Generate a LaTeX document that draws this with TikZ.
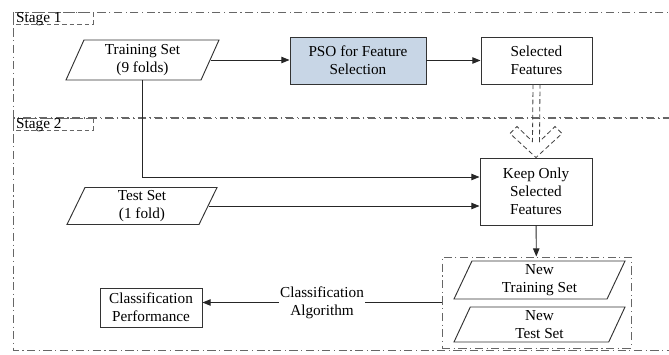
\documentclass[tikz,border=0pt]{standalone}
\usepackage{fontspec}
\setmainfont{Liberation Serif}
\usepackage{xcolor}
\usetikzlibrary{
    shapes.geometric,
    arrows.meta,
    positioning,
    calc
}
\definecolor{psoblue}{RGB}{200,214,230}

\begin{document}
\begin{tikzpicture}[
    x=0.03cm, y=-0.03cm,
    font=\fontsize{13}{15.5}\selectfont,
    procbox/.style={
        rectangle,
        draw=black!80,
        line width=0.8pt,
        align=center,
        inner sep=2pt
    },
    databox/.style={
        trapezium,
        trapezium left angle=62,
        trapezium right angle=118,
        trapezium stretches body,
        draw=black!80,
        line width=0.8pt,
        align=center,
        inner sep=1pt
    },
    stageframe/.style={draw=black!60, line width=0.8pt, dash pattern=on 7pt off 3pt on 1pt off 3pt},
    stagelabel/.style={draw=black!60, line width=0.8pt, dash pattern=on 4pt off 2.5pt},
    arrow/.style={-{Triangle[length=7pt,width=5.5pt]}, line width=0.8pt, draw=black!85}
]
\useasboundingbox (0,0) rectangle (669,354);

% Stage frames
\draw[stageframe] (13,12) rectangle (676,117);
\draw[stageframe] (13,118) rectangle (676,350);
\draw[stagelabel] (13,12) rectangle (93,24);
\draw[stagelabel] (13,118) rectangle (93,130);
\node[anchor=base west, inner sep=0] (st1) at (16,22) {Stage 1};
\node[anchor=base west, inner sep=0] (st2) at (16,128) {Stage 2};

% Stage 1
\node[databox, minimum width=4.59cm, minimum height=1.2cm] (trn) at (142.5,60) {Training Set\\(9 folds)};
\node[procbox, fill=psoblue, minimum width=4.08cm, minimum height=1.41cm] (pso) at (358,60.5) {PSO for Feature\\Selection};
\node[procbox, minimum width=3.33cm, minimum height=1.41cm] (sel) at (536.5,60.5) {Selected\\Features};

% Stage 2
\node[procbox, minimum width=3.36cm, minimum height=2.01cm] (keep) at (536,191.5) {Keep Only\\Selected\\Features};
\node[databox, minimum width=4.5cm, minimum height=1.11cm] (tst) at (142,206) {Test Set\\(1 fold)};

% New sets group
\node[rectangle, stageframe, minimum width=5.67cm, minimum height=2.73cm] (grp) at (536.5,302.5) {};
\node[databox, minimum width=5.13cm, minimum height=1.14cm] (ntrn) at (539.5,280) {New\\Training Set};
\node[databox, minimum width=5.13cm, minimum height=1.05cm] (ntst) at (539.5,324.5) {New\\Test Set};

\node[procbox, minimum width=3.06cm, minimum height=1.17cm] (perf) at (151,307.5) {Classification\\Performance};

% Connectors
\draw[arrow] (trn.east) -- (trn.east -| pso.west);
\draw[arrow] (pso) -- (sel);
\draw[arrow] (trn.south) |- ($(keep.west)+(0,-14.5)$);
\draw[arrow] (tst.east) -- (tst.east -| keep.west);
\draw[arrow] (keep) -- (grp);
\draw[arrow] (grp.west) -- node[fill=white, align=center, inner sep=1pt] (alg) {Classification\\Algorithm} (grp.west -| perf.east);

% Hollow arrow
\draw[stagelabel, draw=black!75, line width=0.7pt]
    ($(sel.south)+(-3.5,0)$) -- ($(keep.north)+(-3.5,-16)$) -- ($(keep.north)+(-19,-31)$)
    -- ($(keep.north)+(-26,-24)$) -- (keep.north) -- ($(keep.north)+(26,-24)$)
    -- ($(keep.north)+(19,-31)$) -- ($(keep.north)+(3.5,-16)$) -- ($(sel.south)+(3.5,0)$);

\end{tikzpicture}
\end{document}
